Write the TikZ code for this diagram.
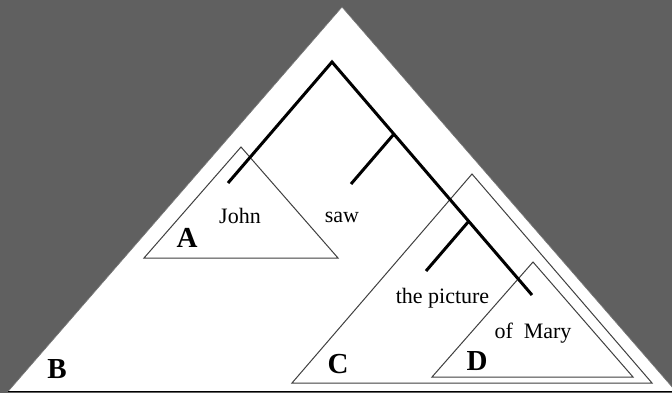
\documentclass[tikz,border=0pt]{standalone}
\usepackage{fontspec}
\setmainfont{Liberation Serif}
\definecolor{bg}{RGB}{96,96,96}
\begin{document}
\begin{tikzpicture}[x=1pt,y=-1pt,
  tri/.style={draw=black!75,line width=1pt,line join=miter},
  branch/.style={draw=black,line width=3pt},
  word/.style={anchor=base,inner sep=0pt,font=\fontsize{22}{24}\selectfont},
  lab/.style={anchor=base,inner sep=0pt,font=\fontsize{29}{30}\selectfont\bfseries}]
\useasboundingbox (0,0) rectangle (672,393);
\fill[bg] (0,0) rectangle (672,393);
\begin{scope}
\clip (0,0) rectangle (672,393);
% big triangle B
\coordinate (B1) at (8,391.5);
\coordinate (B2) at (342,7);
\coordinate (B3) at (676,391.5);
\fill[white] (B1) -- (B2) -- (B3) -- cycle;
\draw[black!55,line width=0.6pt] (B1) -- (B2) -- (B3);
\draw[black,line width=1.5pt] (B1) -- (B3);
\end{scope}
% triangle A
\coordinate (A1) at (144,258);
\coordinate (A2) at (241,147);
\coordinate (A3) at (338,258);
\draw[tri] (A1) -- (A2) -- (A3) -- cycle;
% triangle C
\coordinate (C1) at (292,383);
\coordinate (C2) at (472,174);
\coordinate (C3) at (652,383);
\draw[tri] (C1) -- (C2) -- (C3) -- cycle;
% triangle D
\coordinate (D1) at (432,377);
\coordinate (D2) at (533,262);
\coordinate (D3) at (633,377);
\draw[tri] (D1) -- (D2) -- (D3) -- cycle;
% tree
\coordinate (T) at (332,62);
\coordinate (L) at (228,183);
\coordinate (R) at (532,295);
\coordinate (J1) at (393.9,134.1);
\coordinate (S) at (351,184);
\coordinate (J2) at (468.7,221.3);
\coordinate (P) at (426,271);
\draw[branch] (L) -- (T) -- (R);
\draw[branch] (S) -- (J1);
\draw[branch] (P) -- (J2);
% words
\node[word] (john) at (240,223) {John};
\node[word] (saw) at (342,222) {saw};
\node[word] (pic) at (442.5,303) {the picture};
\node[word] (mary) at (533,338) {of\ \ Mary};
% labels
\node[lab] (la) at (187,247) {A};
\node[lab] (lb) at (57,378.5) {B};
\node[lab] (lc) at (338,373.5) {C};
\node[lab] (ld) at (477,370) {D};
\end{tikzpicture}
\end{document}
